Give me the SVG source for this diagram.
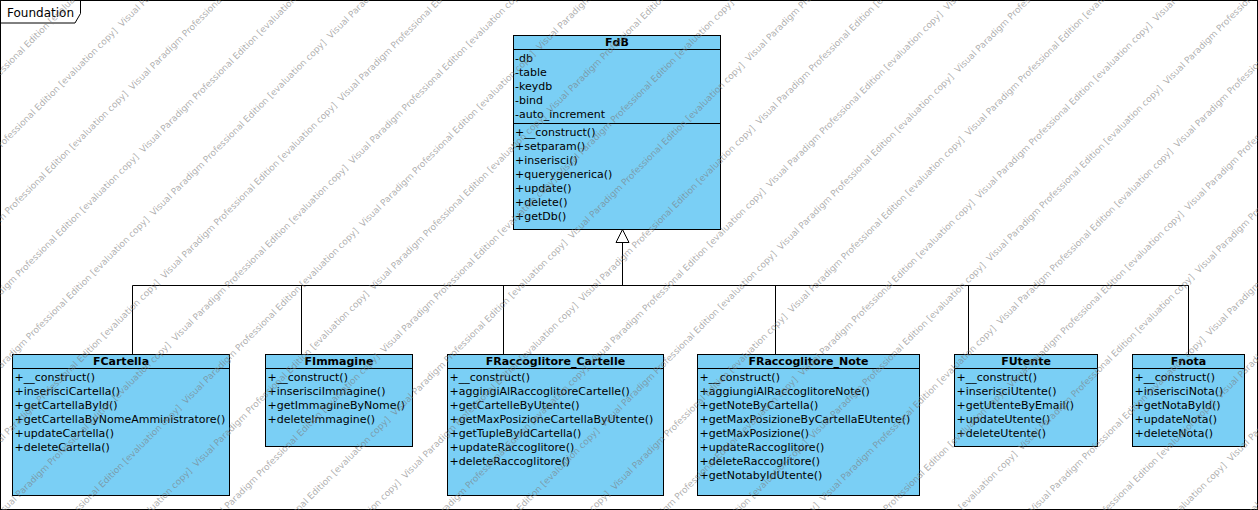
<svg xmlns="http://www.w3.org/2000/svg" xmlns:xlink="http://www.w3.org/1999/xlink" width="1258" height="510" viewBox="0 0 1258 510">
  <style>
    .box { fill: #7ACFF5; stroke: #000; stroke-width: 1; }
    .sep { stroke: #000; stroke-width: 1; fill: none; }
    .edge { stroke: #000; stroke-width: 1; fill: none; }
    .t { font-family: "DejaVu Sans", Verdana, sans-serif; font-size: 11px; fill: #000; }
    .ttl { font-weight: bold; text-anchor: middle; }
    .frame { fill: none; stroke: #000; stroke-width: 1; }
    .fname { font-family: "DejaVu Sans", Verdana, sans-serif; font-size: 12px; fill: #000; }
    .wm { font-family: "DejaVu Sans", Verdana, sans-serif; font-size: 9px; fill: #7a7a7a; fill-opacity: 0.6; }
  </style>
  <defs>
    <text id="wmline" class="wm">Visual Paradigm Professional Edition [evaluation copy]&#160;&#160;Visual Paradigm Professional Edition [evaluation copy]&#160;&#160;Visual Paradigm Professional Edition [evaluation copy]&#160;&#160;Visual Paradigm Professional Edition [evaluation copy]&#160;&#160;Visual Paradigm Professional Edition [evaluation copy]&#160;&#160;Visual Paradigm Professional Edition [evaluation copy]</text>
  </defs>

  <rect width="1258" height="510" fill="#fff"/>

  <!-- package frame -->
  <g id="frame">
    <rect class="frame" x="0.5" y="0.5" width="1257" height="509"/>
    <path class="frame" d="M0.5,23 H75 L80.5,13.5 V0.5"/>
    <text class="fname" x="7" y="16.5">Foundation</text>
  </g>

  <!-- generalization connectors -->
  <g id="connectors">
    <path class="edge" d="M622.5,242.5 V285.5"/>
    <path class="edge" d="M132.5,285.5 H1188.5"/>
    <path class="edge" d="M132.5,285.5 V354.5 M301.5,285.5 V354.5 M503.5,285.5 V354.5 M775.5,285.5 V354.5 M968.5,285.5 V354.5 M1188.5,285.5 V354.5"/>
    <polygon points="622.5,229.5 616,242.5 629,242.5" fill="#fff" stroke="#000" stroke-width="1"/>
  </g>

  <g id="FdB">
    <rect class="box" x="513.5" y="35.5" width="207" height="194"/>
    <path class="sep" d="M513.5,49.5 H720.5 M513.5,123.5 H720.5"/>
    <text class="t ttl" x="617" y="46">FdB</text>
    <text class="t" x="515" y="62">-db</text>
    <text class="t" x="515" y="76">-table</text>
    <text class="t" x="515" y="90">-keydb</text>
    <text class="t" x="515" y="104">-bind</text>
    <text class="t" x="515" y="118">-auto_increment</text>
    <text class="t" x="515" y="136">+__construct()</text>
    <text class="t" x="515" y="150">+setparam()</text>
    <text class="t" x="515" y="164">+inserisci()</text>
    <text class="t" x="515" y="178">+querygenerica()</text>
    <text class="t" x="515" y="192">+update()</text>
    <text class="t" x="515" y="206">+delete()</text>
    <text class="t" x="515" y="220">+getDb()</text>
  </g>

  <g id="FCartella">
    <rect class="box" x="12.5" y="354.5" width="217" height="141"/>
    <path class="sep" d="M12.5,368.5 H229.5"/>
    <text class="t ttl" x="121" y="365">FCartella</text>
    <text class="t" x="14.5" y="381">+__construct()</text>
    <text class="t" x="14.5" y="395">+inserisciCartella()</text>
    <text class="t" x="14.5" y="409">+getCartellaById()</text>
    <text class="t" x="14.5" y="423">+getCartellaByNomeAmministratore()</text>
    <text class="t" x="14.5" y="437">+updateCartella()</text>
    <text class="t" x="14.5" y="451">+deleteCartella()</text>
  </g>

  <g id="FImmagine">
    <rect class="box" x="265.5" y="354.5" width="147" height="92"/>
    <path class="sep" d="M265.5,368.5 H412.5"/>
    <text class="t ttl" x="339" y="365">FImmagine</text>
    <text class="t" x="267.5" y="381">+__construct()</text>
    <text class="t" x="267.5" y="395">+inserisciImmagine()</text>
    <text class="t" x="267.5" y="409">+getImmagineByNome()</text>
    <text class="t" x="267.5" y="423">+deleteImmagine()</text>
  </g>

  <g id="FRaccoglitore_Cartelle">
    <rect class="box" x="447.5" y="354.5" width="216" height="141"/>
    <path class="sep" d="M447.5,368.5 H663.5"/>
    <text class="t ttl" x="555.5" y="365">FRaccoglitore_Cartelle</text>
    <text class="t" x="449.5" y="381">+__construct()</text>
    <text class="t" x="449.5" y="395">+aggingiAlRaccoglitoreCartelle()</text>
    <text class="t" x="449.5" y="409">+getCartelleByUtente()</text>
    <text class="t" x="449.5" y="423">+getMaxPosizioneCartellaByUtente()</text>
    <text class="t" x="449.5" y="437">+getTupleByIdCartella()</text>
    <text class="t" x="449.5" y="451">+updateRaccoglitore()</text>
    <text class="t" x="449.5" y="465">+deleteRaccoglitore()</text>
  </g>

  <g id="FRaccoglitore_Note">
    <rect class="box" x="697.5" y="354.5" width="222" height="141"/>
    <path class="sep" d="M697.5,368.5 H919.5"/>
    <text class="t ttl" x="808.5" y="365">FRaccoglitore_Note</text>
    <text class="t" x="699.5" y="381">+__construct()</text>
    <text class="t" x="699.5" y="395">+aggiungiAlRaccoglitoreNote()</text>
    <text class="t" x="699.5" y="409">+getNoteByCartella()</text>
    <text class="t" x="699.5" y="423">+getMaxPosizioneByCartellaEUtente()</text>
    <text class="t" x="699.5" y="437">+getMaxPosizione()</text>
    <text class="t" x="699.5" y="451">+updateRaccoglitore()</text>
    <text class="t" x="699.5" y="465">+deleteRaccoglitore()</text>
    <text class="t" x="699.5" y="479">+getNotabyIdUtente()</text>
  </g>

  <g id="FUtente">
    <rect class="box" x="954.5" y="354.5" width="143" height="92"/>
    <path class="sep" d="M954.5,368.5 H1097.5"/>
    <text class="t ttl" x="1026" y="365">FUtente</text>
    <text class="t" x="956.5" y="381">+__construct()</text>
    <text class="t" x="956.5" y="395">+inserisciUtente()</text>
    <text class="t" x="956.5" y="409">+getUtenteByEmail()</text>
    <text class="t" x="956.5" y="423">+updateUtente()</text>
    <text class="t" x="956.5" y="437">+deleteUtente()</text>
  </g>

  <g id="Fnota">
    <rect class="box" x="1132.5" y="354.5" width="112" height="92"/>
    <path class="sep" d="M1132.5,368.5 H1244.5"/>
    <text class="t ttl" x="1188.5" y="365">Fnota</text>
    <text class="t" x="1134.5" y="381">+__construct()</text>
    <text class="t" x="1134.5" y="395">+inserisciNota()</text>
    <text class="t" x="1134.5" y="409">+getNotaById()</text>
    <text class="t" x="1134.5" y="423">+updateNota()</text>
    <text class="t" x="1134.5" y="437">+deleteNota()</text>
  </g>

  <!-- diagonal evaluation watermark, one repeated line per offset -->
  <g id="watermark" transform="rotate(-45)">
    <use xlink:href="#wmline" x="-611" y="1.8"/>
    <use xlink:href="#wmline" x="-397" y="53.77"/>
    <use xlink:href="#wmline" x="-434" y="105.74"/>
    <use xlink:href="#wmline" x="-471" y="157.71"/>
    <use xlink:href="#wmline" x="-508" y="209.68"/>
    <use xlink:href="#wmline" x="-545" y="261.65"/>
    <use xlink:href="#wmline" x="-582" y="313.62"/>
    <use xlink:href="#wmline" x="-368" y="365.6"/>
    <use xlink:href="#wmline" x="-405" y="417.57"/>
    <use xlink:href="#wmline" x="-442" y="469.54"/>
    <use xlink:href="#wmline" x="-479" y="521.51"/>
    <use xlink:href="#wmline" x="-516" y="573.49"/>
    <use xlink:href="#wmline" x="-553" y="625.46"/>
    <use xlink:href="#wmline" x="-590" y="677.43"/>
    <use xlink:href="#wmline" x="-376" y="729.4"/>
    <use xlink:href="#wmline" x="-413" y="781.37"/>
    <use xlink:href="#wmline" x="-450" y="833.35"/>
    <use xlink:href="#wmline" x="-487" y="885.32"/>
    <use xlink:href="#wmline" x="-524" y="937.29"/>
    <use xlink:href="#wmline" x="-561" y="989.26"/>
    <use xlink:href="#wmline" x="-598" y="1041.24"/>
    <use xlink:href="#wmline" x="-384" y="1093.21"/>
    <use xlink:href="#wmline" x="-421" y="1145.18"/>
    <use xlink:href="#wmline" x="-458" y="1197.15"/>
    <use xlink:href="#wmline" x="-495" y="1249.12"/>
  </g>
</svg>
